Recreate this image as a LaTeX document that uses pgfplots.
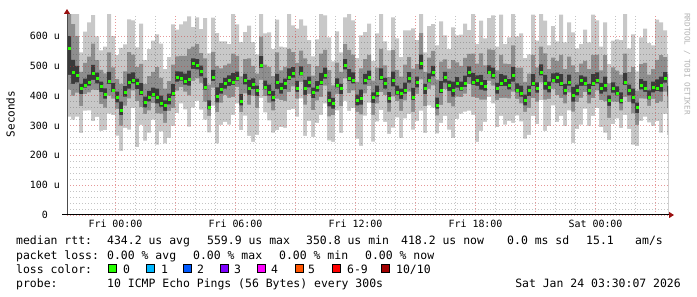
\documentclass[border=0pt]{standalone}
\usepackage{fontspec}
\setmainfont{DejaVu Sans Mono}
\usepackage{pgfplots}
\pgfplotsset{compat=1.18}
\usepackage{pgfplotstable}
\usetikzlibrary{arrows.meta}
\definecolor{smokeA}{HTML}{C8C8C8}
\definecolor{smokeB}{HTML}{8E8E8E}
\definecolor{smokeC}{HTML}{3A3A3A}
\definecolor{lossgreen}{HTML}{26FF00}
\definecolor{gridred}{RGB}{205,50,50}
\definecolor{gridgrey}{RGB}{60,60,60}
\definecolor{arrowred}{HTML}{9A1010}
\definecolor{lc0}{HTML}{26FF00}
\definecolor{lc1}{HTML}{00B8FF}
\definecolor{lc2}{HTML}{0059FF}
\definecolor{lc3}{HTML}{7E00FF}
\definecolor{lc4}{HTML}{FF00FF}
\definecolor{lc5}{HTML}{FF5500}
\definecolor{lc6}{HTML}{FF0000}
\definecolor{lc7}{HTML}{A10000}

\pgfplotstableread{
mn lo lo2 md hi2 hi mx
330 420 470 560 600 675 690
320 400 440 480 520 640 690
330 410 445 470 500 600 690
275 365 405 425 440 480 545
350 405 427 435 457 510 615
351 411 434 446 471 531 646
315 420 453 475 503 575 670
329 419 441 459 477 519 599
282 372 412 432 447 487 552
285 360 390 405 425 475 565
340 400 440 450 480 545 680
335 390 412 420 442 495 600
266 356 378 396 414 456 536
215 300 335 351 380 440 560
292 367 397 412 432 482 572
286 391 424 446 474 546 656
358 418 441 453 478 538 653
228 382 422 442 457 497 562
302 362 402 412 442 507 642
249 339 361 379 397 439 519
276 351 381 396 416 466 556
320 375 397 405 427 480 585
236 341 374 396 424 496 606
280 340 363 375 400 460 575
240 309 349 369 384 424 489
259 349 371 389 407 449 529
299 359 399 409 439 504 639
342 417 447 462 482 532 622
374 429 451 459 481 534 639
354 414 437 449 474 534 649
296 401 434 456 484 556 666
360 450 490 510 525 565 630
383 458 488 503 523 573 663
353 443 465 483 501 543 623
320 380 420 430 460 525 660
277 332 354 362 384 437 542
367 427 450 462 487 547 662
240 345 378 400 428 500 610
302 377 407 422 442 492 582
312 402 424 442 460 502 582
303 393 433 453 468 508 573
336 396 436 446 476 541 676
374 429 451 459 481 534 639
285 345 368 380 405 465 580
333 408 438 453 473 523 613
265 370 403 425 453 525 635
245 400 422 440 458 500 580
269 359 399 419 434 474 539
393 453 493 503 533 598 680
344 399 421 429 451 504 609
317 377 400 412 437 497 612
276 351 381 396 416 466 556
285 390 423 445 473 545 655
295 385 407 425 443 485 565
292 382 422 442 457 497 562
352 412 452 462 492 557 680
356 431 461 476 496 546 636
330 390 413 425 450 510 625
391 446 468 476 498 551 656
265 370 403 425 453 525 635
316 406 428 446 464 506 586
262 352 392 412 427 467 532
309 384 414 429 449 499 589
336 396 436 446 476 541 676
374 434 457 469 494 554 669
250 331 364 386 414 486 596
245 335 357 375 393 435 515
351 406 428 436 458 511 616
275 365 405 425 440 480 545
383 458 488 503 523 573 663
349 409 449 459 489 554 680
358 418 441 453 478 538 653
256 346 368 386 404 446 526
232 337 370 392 420 492 602
333 408 438 453 473 523 613
377 432 454 462 484 537 642
246 336 376 396 411 451 516
314 374 397 409 434 494 609
352 412 452 462 492 557 680
312 402 424 442 460 502 582
272 347 377 392 412 462 552
293 398 431 453 481 553 663
327 382 404 412 434 487 592
259 349 389 409 424 464 529
324 384 407 419 444 504 619
339 414 444 459 479 529 619
286 346 386 396 426 491 626
316 406 428 446 464 506 586
350 455 488 510 538 610 680
275 365 405 425 440 480 545
368 423 445 453 475 528 633
360 435 465 480 500 550 640
274 334 357 369 394 454 569
309 369 409 419 449 514 649
332 422 444 462 480 522 602
286 376 416 436 451 491 556
259 364 397 419 447 519 629
322 397 427 442 462 512 602
340 395 417 425 447 500 605
347 407 430 442 467 527 642
350 440 462 480 498 540 620
336 396 436 446 476 541 676
245 393 433 453 468 508 573
282 387 420 442 470 542 652
312 387 417 432 452 502 592
395 450 472 480 502 555 660
374 434 457 469 494 554 669
295 385 407 425 443 485 565
332 392 432 442 472 537 672
303 393 433 453 468 508 573
316 391 421 436 456 506 596
309 414 447 469 497 569 679
334 389 411 419 441 494 599
314 374 397 409 434 494 609
256 346 368 386 404 446 526
269 359 399 419 434 474 539
332 392 432 442 472 537 672
305 380 410 425 445 495 585
385 445 468 480 505 565 680
282 387 420 442 470 542 652
299 389 411 429 447 489 569
368 423 445 453 475 528 633
312 402 442 462 477 517 582
332 392 432 442 472 537 672
299 374 404 419 439 489 579
351 411 434 446 471 531 646
242 347 380 402 430 502 612
289 379 401 419 437 479 559
303 393 433 453 468 508 573
357 412 434 442 464 517 622
299 374 404 419 439 489 579
332 392 432 442 472 537 672
358 418 441 453 478 538 653
295 385 407 425 443 485 565
276 381 414 436 464 536 646
251 326 366 386 401 441 506
305 380 410 425 445 495 585
324 379 401 409 431 484 589
291 351 374 386 411 471 586
336 396 436 446 476 541 676
289 379 401 419 437 479 559
236 341 374 396 424 496 606
232 302 342 362 377 417 482
316 391 421 436 456 506 596
330 390 413 425 450 510 625
311 366 388 396 418 471 576
299 389 411 429 447 489 569
315 375 415 425 455 520 655
276 381 414 436 464 536 646
339 414 444 459 479 529 619
268 358 398 418 433 473 538
268 358 398 418 433 473 538
}\smoke

\begin{document}
\begin{tikzpicture}
\path (0,0) rectangle (697bp,297bp);
\begin{axis}[
  at={(67bp,82bp)}, anchor=south west,
  scale only axis, width=601bp, height=201bp,
  xmin=-2.425, xmax=27.625, ymin=0, ymax=674,
  axis on top,
  axis line style={draw=none},
  xtick={0,3,...,27},
  xticklabels={Fri 00:00,,Fri 06:00,,Fri 12:00,,Fri 18:00,,Sat 00:00,},
  minor x tick num=2,
  ytick={0,100,...,600},
  yticklabels={\mbox{0\hspace{12bp}},\mbox{100 u},\mbox{200 u},\mbox{300 u},\mbox{400 u},\mbox{500 u},\mbox{600 u}},
  minor y tick num=4,
  grid=both,
  major grid style={draw=gridred, draw opacity=0.5, line width=0.7bp, dash pattern=on 1bp off 2bp},
  minor grid style={draw=gridgrey, draw opacity=0.3, line width=0.7bp, dash pattern=on 1bp off 2bp},
  major tick length=0pt, minor tick length=0pt,
  tick label style={font=\fontsize{10}{12}\selectfont, inner sep=0pt},
  yticklabel style={anchor=east, xshift=-7bp},
  xticklabel style={anchor=north, yshift=-5bp},
  table/x expr=\coordindex*0.2-2.425,
]
\addplot[ybar interval, fill=smokeA, draw=none, forget plot] table[y=mx] {\smoke};
\addplot[ybar interval, fill=smokeB, draw=none, forget plot] table[y=hi] {\smoke};
\addplot[ybar interval, fill=smokeC, draw=none, forget plot] table[y=hi2] {\smoke};
\addplot[ybar interval, fill=smokeB, draw=none, forget plot] table[y=lo2] {\smoke};
\addplot[ybar interval, fill=smokeA, draw=none, forget plot] table[y=lo] {\smoke};
\addplot[ybar interval, fill=white, draw=none, forget plot] table[y=mn] {\smoke};
\addplot[only marks, color=lossgreen, mark=square*, mark size=1bp, mark options={solid, fill=lossgreen, draw=none}] table[x expr=\coordindex*0.2-2.325, y=md] {\smoke};
\end{axis}
% axis lines with arrows
\draw[black!70, line width=1bp, -{Triangle[length=5bp,width=6bp,color=arrowred]}] (67bp,82bp) -- (67bp,288bp);
\draw[black, line width=1bp, -{Triangle[length=5bp,width=6bp,color=arrowred]}] (62bp,82bp) -- (674bp,82bp);
% titles
\node[rotate=90, font=\fontsize{11}{13}\selectfont] at (10.5bp,183bp) {Seconds};
\node[rotate=-90, font=\fontsize{7.7}{9}\selectfont, text=black!30] at (687bp,233bp) {RRDTOOL / TOBI OETIKER};
% legend
\begin{scope}[every node/.style={anchor=base west, inner sep=0pt, font=\fontsize{11.5}{13}\selectfont}]
\node at (16bp,52bp) {median rtt:};
\node at (107bp,52bp) {434.2 us avg};
\node at (207bp,52bp) {559.9 us max};
\node at (306bp,52bp) {350.8 us min};
\node at (401bp,52bp) {418.2 us now};
\node at (507bp,52bp) {0.0 ms sd};
\node at (586bp,52bp) {15.1};
\node at (635bp,52bp) {am/s};
\node at (16bp,38bp) {packet loss:};
\node at (107bp,38bp) {0.00 \% avg};
\node at (193bp,38bp) {0.00 \% max};
\node at (279bp,38bp) {0.00 \% min};
\node at (365bp,38bp) {0.00 \% now};
\node at (16bp,24bp) {loss color:};
\node at (123bp,24bp) {0};
\node at (161bp,24bp) {1};
\node at (197bp,24bp) {2};
\node at (234bp,24bp) {3};
\node at (271bp,24bp) {4};
\node at (308bp,24bp) {5};
\node at (347bp,24bp) {6-9};
\node at (396bp,24bp) {10/10};
\node at (16bp,10bp) {probe:};
\node at (107bp,10bp) {10 ICMP Echo Pings (56 Bytes) every 300s};
\node[anchor=base east] at (681bp,10bp) {Sat Jan 24 03:30:07 2026};
\end{scope}
\foreach \xx/\cc in {108.5/lc0,146/lc1,183.5/lc2,220.5/lc3,257.5/lc4,295/lc5,332.5/lc6,381.5/lc7}{
  \draw[black, line width=0.8bp, fill=\cc] (\xx bp,24.5bp) rectangle ++(8bp,8bp);
}
\end{tikzpicture}
\end{document}
